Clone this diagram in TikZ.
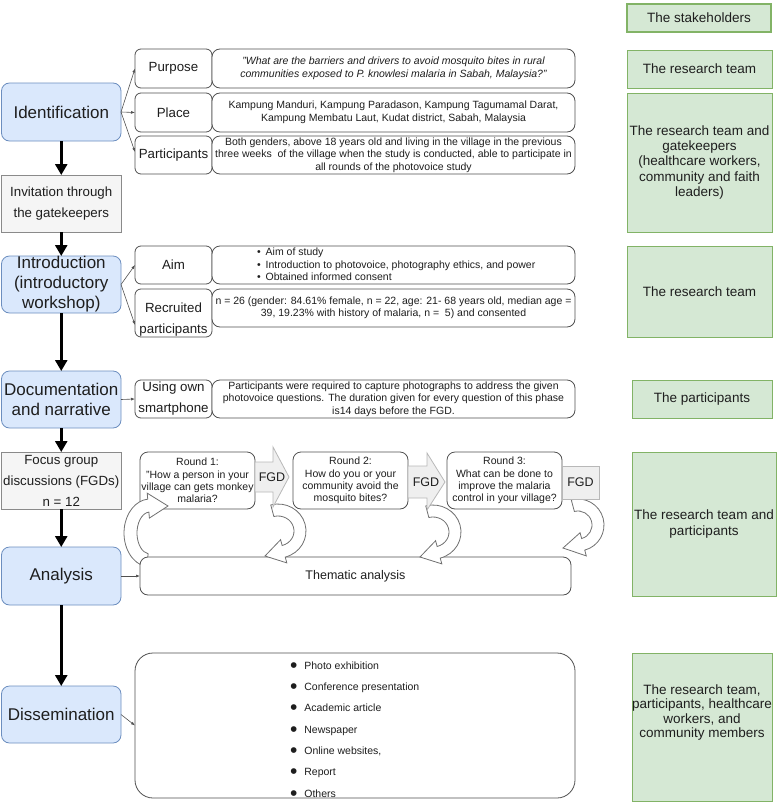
\documentclass[tikz,border=0pt]{standalone}
\usepackage{fontspec}
\setmainfont{Liberation Sans}
\usetikzlibrary{arrows.meta,calc}
\definecolor{bluef}{HTML}{DAE8FC}
\definecolor{blued}{HTML}{6C8EBF}
\definecolor{grayf}{HTML}{F5F5F5}
\definecolor{grayd}{HTML}{8A8A8A}
\definecolor{greenf}{HTML}{D5E8D4}
\definecolor{greend}{HTML}{82B366}
\definecolor{boxd}{HTML}{505050}
\definecolor{connd}{HTML}{505050}
\definecolor{fgdf}{HTML}{EFEFEF}
\definecolor{fgdd}{HTML}{B8B8B8}
\definecolor{curvd}{HTML}{707070}
\definecolor{txt}{HTML}{1E1E1E}
\newcommand\placebox[7]{%
  \pgfmathsetmacro\bxw{#5-#3}%
  \pgfmathsetmacro\bxh{#6-#4}%
  \pgfmathsetmacro\bxx{(#3+#5)/2}%
  \pgfmathsetmacro\bxy{(#4+#6)/2}%
  \node[#1, minimum width=\bxw pt, minimum height=\bxh pt] (#2) at (\bxx,\bxy) {#7};}
\newcommand\dbul{\raisebox{-3pt}{\fontsize{21}{21}\selectfont\textbullet}}
\tikzset{
  base/.style={inner sep=0pt, outer sep=0pt, align=center, text=txt},
  stage/.style={base, fill=bluef, draw=blued, rounded corners=8pt, line width=0.8pt, font=\fontsize{17}{20}\selectfont},
  grayb/.style={base, fill=grayf, draw=grayd, line width=0.8pt, font=\fontsize{13.3}{21}\selectfont},
  lab/.style={base, fill=white, draw=boxd, rounded corners=6pt, line width=0.8pt, font=\fontsize{13.3}{21}\selectfont},
  cont/.style={base, fill=white, draw=boxd, rounded corners=8pt, line width=0.8pt, font=\fontsize{10.5}{12.5}\selectfont},
  roundq/.style={cont, font=\fontsize{10.5}{12.3}\selectfont},
  stake/.style={base, fill=greenf, draw=greend, line width=0.6pt, font=\fontsize{13.5}{15.3}\selectfont},
  txtn/.style={base, fill=none, draw=none},
  bigarr/.style={line width=2.6pt, draw=black, -{Triangle[length=11pt,width=12pt]}},
  fan/.style={line width=0.6pt, draw=connd, -{Latex[length=4pt,width=3pt]}},
  fgdarr/.style={fill=fgdf, draw=fgdd, line width=0.8pt},
  fgdtxt/.style={base, font=\fontsize{12.5}{14}\selectfont},
  curv/.style={fill=white, draw=curvd, line width=0.8pt},
}
\begin{document}
\begin{tikzpicture}[x=1pt, y={(0pt,-1pt)}]
\useasboundingbox (0,0) rectangle (777,803);

% ---------- left stages ----------
\placebox{stage}{ident}{1.5}{83}{121}{141}{Identification}
\placebox{grayb}{invit}{1.5}{175}{121}{232}{Invitation through\\the gatekeepers}
\placebox{stage}{intro}{1.5}{256}{121}{313}{Introduction\\(introductory\\workshop)}
\placebox{stage}{doc}{1.5}{371}{121}{428}{Documentation\\and narrative}
\placebox{grayb}{fgd}{1.5}{452}{121}{509}{Focus group\\discussions (FGDs)\\n = 12}
\placebox{stage}{anal}{1.5}{547}{121}{605}{Analysis}
\placebox{stage}{diss}{1.5}{686}{121}{743}{Dissemination}

\draw[bigarr] (ident) -- (invit);
\draw[bigarr] (invit) -- (intro);
\draw[bigarr] (intro) -- (doc);
\draw[bigarr] (doc) -- (fgd);
\draw[bigarr] (fgd) -- (anal);
\draw[bigarr] (anal) -- (diss);

% ---------- identification ----------
\placebox{lab}{purp}{135}{49}{212}{88}{Purpose}
\placebox{lab}{place}{135}{93}{212}{132}{Place}
\placebox{lab}{partl}{135}{136}{212}{174}{Participants}
\placebox{cont, font=\fontsize{10.5}{12.5}\selectfont\itshape}{purpc}{212}{49}{575}{88}{"What are the barriers and drivers to avoid mosquito bites in rural\\communities exposed to P. knowlesi malaria in Sabah, Malaysia?"}
\placebox{cont}{placec}{212}{93}{575}{132}{Kampung Manduri, Kampung Paradason, Kampung Tagumamal Darat,\\Kampung Membatu Laut, Kudat district, Sabah, Malaysia}
\placebox{cont}{partc}{212}{136}{575}{174}{Both genders, above 18 years old and living in the village in the previous\\three weeks\ \ of the village when the study is conducted, able to participate in\\all rounds of the photovoice study}
\draw[fan] (ident.east) -- (purp.west);
\draw[fan] (ident.east) -- (place.west);
\draw[fan] (ident.east) -- ($(partl.west)+(0,-3)$);

% ---------- introduction ----------
\placebox{lab}{aiml}{135}{246}{212}{284}{Aim}
\placebox{lab}{recl}{135}{289}{212}{337}{}
\node[txtn, font=\fontsize{13.3}{21}\selectfont] (recltxt) at (173.5,319.5) {Recruited\\participants};
\placebox{cont}{aimc}{212}{246}{575}{284}{}
\node[txtn, anchor=west, font=\fontsize{10.5}{12.5}\selectfont] (aimlist) at (257,265.5) {\begin{tabular}{@{}l@{}}\textbullet\hspace{5pt}Aim of study\\\textbullet\hspace{5pt}Introduction to photovoice, photography ethics, and power\\\textbullet\hspace{5pt}Obtained informed consent\end{tabular}};
\placebox{cont}{recc}{212}{289}{575}{327}{n = 26 (gender: 84.61\% female, n = 22, age: 21- 68 years old, median age =\\39, 19.23\% with history of malaria, n =\ \ 5) and consented}
\draw[fan] (intro.east) -- (aiml.west);
\draw[fan] (intro.east) -- ($(recl.west)+(0,12)$);

% ---------- documentation ----------
\placebox{lab}{usel}{135}{380}{212}{418}{Using own\\smartphone}
\placebox{cont}{usec}{212}{380}{575}{418}{Participants were required to capture photographs to address the given\\photovoice questions. The duration given for every question of this phase\\is14 days before the FGD.}
\draw[fan] (doc.east) -- (usel.west);

% ---------- FGD rounds ----------
\placebox{roundq}{r1}{140}{452}{255}{509}{Round 1:\\"How a person in your\\village can gets monkey\\malaria?}
\placebox{roundq}{r2}{293}{452}{408}{509}{Round 2:\\How do you or your\\community avoid the\\mosquito bites?}
\placebox{roundq}{r3}{447}{452}{562}{509}{Round 3:\\What can be done to\\improve the malaria\\control in your village?}

% left feedback arrow (behind the thematic box)
\begin{scope}[shift={(150,533)}, yscale=-1]
\draw[curv] (262:26 and 34) arc[start angle=262, end angle=95, x radius=26, y radius=34]
  -- (95:32 and 40) -- (18,27) -- (95:7 and 15) -- (95:13 and 21)
  arc[start angle=95, end angle=262, x radius=13, y radius=21] -- cycle;
\end{scope}

\placebox{cont, font=\fontsize{12.5}{14}\selectfont}{them}{140}{557}{571}{595}{Thematic analysis}
\draw[fan] (anal.east) -- (them.west);

% curved arrows down to analysis
\begin{scope}[shift={(278,531)}, yscale=-1]
\draw[curv] (105:28 and 27) arc[start angle=105, end angle=-75, x radius=28, y radius=27]
  -- (-75:34 and 33) -- (-13,-25) -- (-75:10 and 9) -- (-75:16 and 15)
  arc[start angle=-75, end angle=105, x radius=16, y radius=15] -- cycle;
\end{scope}
\begin{scope}[shift={(433,532)}, yscale=-1]
\draw[curv] (105:28 and 27) arc[start angle=105, end angle=-75, x radius=28, y radius=27]
  -- (-75:34 and 33) -- (-13,-25) -- (-75:10 and 9) -- (-75:16 and 15)
  arc[start angle=-75, end angle=105, x radius=16, y radius=15] -- cycle;
\end{scope}
\begin{scope}[shift={(578,525)}, yscale=-1]
\draw[curv] (105:26 and 26) arc[start angle=105, end angle=-75, x radius=26, y radius=26]
  -- (-75:32 and 32) -- (-15,-23) -- (-75:8 and 8) -- (-75:14 and 14)
  arc[start angle=-75, end angle=105, x radius=14, y radius=14] -- cycle;
\end{scope}

% FGD block arrows
\draw[fgdarr] (r1.east |- 0,462) -- (273,462) -- (273,447) -- (289,477) -- (273,507) -- (273,492) -- (r1.east |- 0,492) -- cycle;
\node[fgdtxt] (fgd1) at (272,477) {FGD};
\draw[fgdarr] (r2.east |- 0,466) -- (427,466) -- (427,453) -- (445,482) -- (427,510) -- (427,498) -- (r2.east |- 0,498) -- cycle;
\node[fgdtxt] (fgd2) at (426,482) {FGD};
\placebox{fgdarr, fgdtxt}{fgd3}{562}{466}{599}{499}{FGD}

% ---------- dissemination ----------
\placebox{cont, rounded corners=18pt}{dbox}{135}{653}{575}{798}{}
\node[txtn, anchor=west, font=\fontsize{10.5}{21.3}\selectfont] (dlist) at (290,729) {\begin{tabular}{@{}l@{\hspace{7pt}}l@{}}\dbul & Photo exhibition\\\dbul & Conference presentation\\\dbul & Academic article\\\dbul & Newspaper\\\dbul & Online websites,\\\dbul & Report\\\dbul & Others\end{tabular}};
\draw[fan] (diss.east) -- (dbox.west);

% ---------- stakeholders ----------
\placebox{stake, line width=2pt}{g0}{627}{4}{771}{32}{The stakeholders}
\placebox{stake}{g1}{627}{50}{772}{88}{The research team}
\placebox{stake}{g2}{627}{93}{772}{232}{The research team and\\gatekeepers\\(healthcare workers,\\community and faith\\leaders)}
\placebox{stake}{g3}{627}{246}{772}{337}{The research team}
\placebox{stake}{g4}{632}{380}{772}{418}{The participants}
\placebox{stake}{g5}{632}{452}{776}{596}{The research team and\\participants}
\placebox{stake}{g6}{632}{653}{772}{801}{}
\node[txtn, font=\fontsize{13.5}{14.4}\selectfont] (g6txt) at (702,712.5) {The research team,\\participants, healthcare\\workers, and\\community members};
\end{tikzpicture}
\end{document}
